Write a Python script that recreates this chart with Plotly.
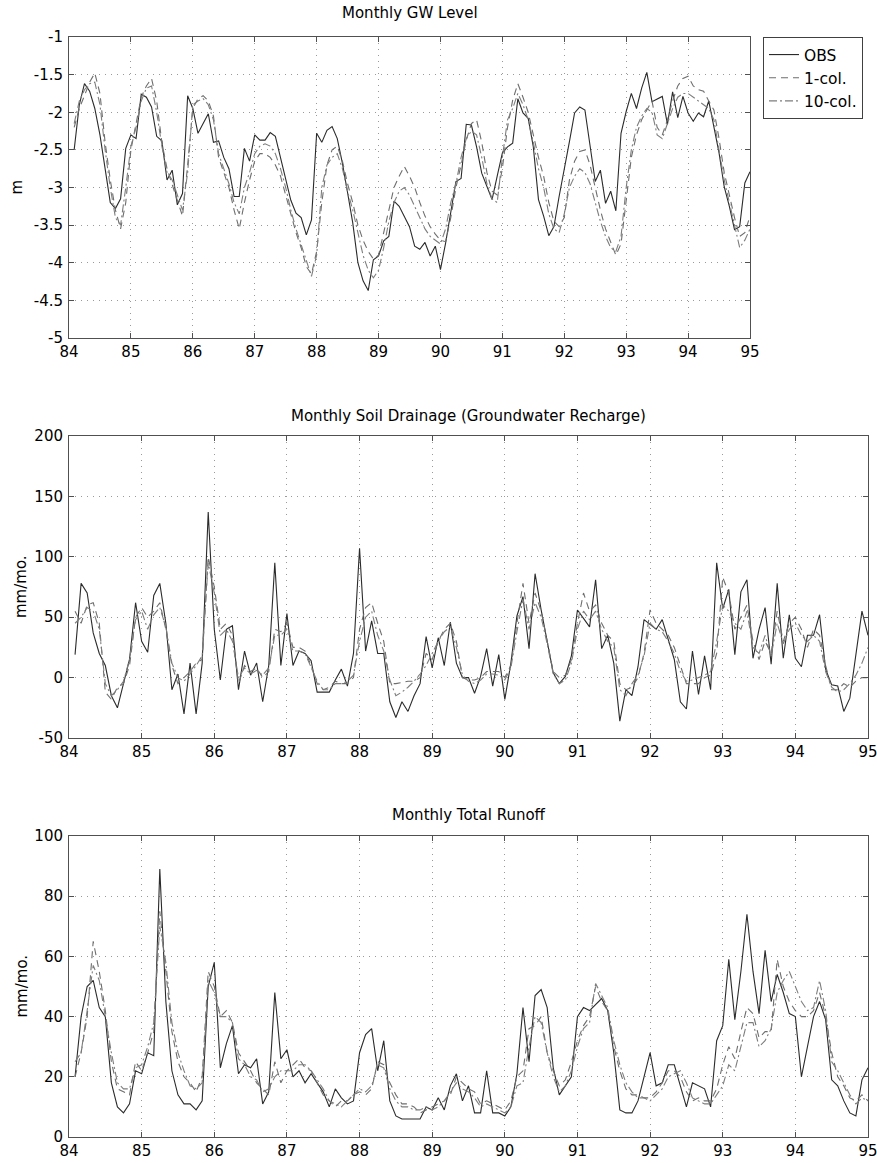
import plotly.graph_objects as go

W, H = 877, 1163

# Monthly time axis: one value per month, Feb 1984 .. Jan 1995 (years as 84..95)
months = [84 + (k + 1) / 12 for k in range(132)]
x_tick_vals = list(range(84, 96))
x_tick_text = [str(v) for v in x_tick_vals]

# ---- Monthly GW level (m) ----
gw_obs = [
    -2.5, -1.9, -1.62, -1.72, -1.95, -2.3, -2.75, -3.2, -3.28, -3.15, -2.48,
    -2.3, -2.35, -1.76, -1.8, -1.93, -2.32, -2.38, -2.9, -2.77, -3.23, -3.08, -1.78,
    -1.95, -2.28, -2.15, -2.02, -2.4, -2.38, -2.6, -2.75, -3.12, -3.12, -2.48, -2.65,
    -2.3, -2.37, -2.37, -2.27, -2.32, -2.6, -2.92, -3.17, -3.34, -3.4, -3.63, -3.43,
    -2.28, -2.4, -2.24, -2.19, -2.35, -2.68, -3.07, -3.47, -4.0, -4.24, -4.37, -3.96,
    -3.91, -3.71, -3.65, -3.18, -3.25, -3.38, -3.52, -3.78, -3.82, -3.73, -3.91, -3.78,
    -4.09, -3.74, -3.34, -2.92, -2.88, -2.16, -2.17, -2.46, -2.81, -2.99, -3.16, -2.85,
    -2.54, -2.46, -2.41, -1.82, -2.01, -2.08, -2.46, -3.16, -3.38, -3.64, -3.52, -3.12,
    -2.77, -2.39, -2.01, -1.93, -1.97, -2.43, -2.92, -2.77, -3.21, -3.05, -3.31, -2.28,
    -1.99, -1.75, -1.95, -1.68, -1.47, -1.86, -1.83, -1.79, -2.16, -1.73, -2.07, -1.79,
    -2.01, -2.12, -2.01, -2.06, -1.85, -2.19, -2.54, -2.99, -3.25, -3.56, -3.52, -2.94, -2.79,
]
gw_1col = [
    -2.2, -1.95, -1.78, -1.6, -1.48, -1.75, -2.4, -2.9, -3.3, -3.55, -3.2,
    -2.5, -2.15, -1.8, -1.65, -1.55, -1.85, -2.4, -2.75, -2.95, -3.15, -3.38, -2.7,
    -1.95, -1.82, -1.78, -1.85, -2.05, -2.6, -2.8, -3.0, -3.3, -3.55, -3.2, -2.9,
    -2.65, -2.55, -2.55, -2.6, -2.7, -2.85, -3.1, -3.35, -3.6, -3.8, -4.05, -4.15,
    -3.85, -3.2, -2.7, -2.5, -2.45, -2.65, -2.95, -3.2, -3.5, -3.7, -3.85, -3.95,
    -3.9, -3.6, -3.3, -3.0, -2.85, -2.72, -2.85, -3.0, -3.2, -3.38, -3.52, -3.62,
    -3.7, -3.72, -3.4, -3.0, -2.7, -2.37, -2.15, -2.1, -2.4, -2.8, -3.05, -3.1,
    -2.75, -2.2, -1.84, -1.62, -1.8, -2.0, -2.3, -2.6, -2.85, -3.2, -3.45, -3.52,
    -3.4, -2.9, -2.65, -2.52, -2.5, -2.7, -3.0, -3.3, -3.55, -3.72, -3.9, -3.75,
    -3.2, -2.6, -2.3, -2.1, -1.97, -1.85, -2.2, -2.3, -2.1, -1.85, -1.65, -1.55,
    -1.52, -1.65, -1.7, -1.72, -1.85, -1.97, -2.35, -2.8, -3.1, -3.4, -3.65, -3.6, -3.38,
]
gw_10col = [
    -2.15, -1.85, -1.7, -1.62, -1.6, -1.9, -2.5, -3.0, -3.4, -3.5, -3.0,
    -2.45, -2.2, -1.85, -1.68, -1.65, -2.0, -2.45, -2.8, -2.9, -3.1, -3.3, -2.8,
    -1.9, -1.85, -1.82, -1.9, -2.1, -2.55, -2.75, -2.95, -3.2, -3.35, -3.0, -2.8,
    -2.55, -2.45, -2.42, -2.45, -2.55, -2.75, -3.0, -3.3, -3.55, -3.75, -3.95, -4.18,
    -3.9, -3.0, -2.7, -2.6, -2.55, -2.75, -3.05, -3.3, -3.6, -3.9, -4.1, -4.2,
    -4.1, -3.8, -3.45, -3.2, -3.05, -3.0, -3.1, -3.25, -3.4, -3.55, -3.65, -3.7,
    -3.75, -3.55, -3.2, -2.95, -2.6, -2.35, -2.25, -2.3, -2.6, -2.95, -3.15, -3.2,
    -2.6, -2.1, -1.95, -1.75, -1.9, -2.1, -2.4, -2.75, -3.0, -3.35, -3.55, -3.6,
    -3.35, -3.0, -2.85, -2.75, -2.8, -2.95, -3.2, -3.45, -3.65, -3.8, -3.85, -3.65,
    -3.0, -2.5, -2.2, -2.05, -1.95, -2.0, -2.3, -2.35, -2.15, -1.95, -1.8, -1.75,
    -1.75, -1.8, -1.85, -1.9, -1.95, -2.1, -2.5, -2.9, -3.2, -3.5, -3.8, -3.7, -3.55,
]

# ---- Monthly soil drainage / groundwater recharge (mm/mo.) ----
dr_obs = [
    19, 78, 70, 37, 20, 10, -15, -25, -5, 15, 62, 30,
    21, 68, 78, 45, -10, 3, -30, 12, -30, 12, 137, 40,
    -2, 40, 43, -10, 22, 2, 12, -20, 10, 95, 10, 53,
    10, 22, 20, 14, -12, -12, -12, -2, 7, -7, 20, 107,
    22, 47, 20, 20, -20, -33, -20, -28, -15, -5, 34, 8,
    33, 10, 46, 12, 0, 0, -13, 1, 24, -7, 19, -18,
    12, 51, 67, 24, 86, 56, 31, 4, -5, 1, 18, 56,
    49, 42, 81, 24, 35, 12, -36, -10, -15, 9, 48, 44,
    40, 48, 31, 15, -20, -26, 22, -14, 18, -10, 95, 57,
    73, 19, 71, 81, 16, 40, 58, 11, 78, 16, 52, 16,
    9, 35, 35, 52, 7, -6, -7, -28, -17, 18, 55, 35,
]
dr_1col = [
    55, 45, 60, 62, 45, -12, -18, -8, -5, 10, 50, 58,
    50, 55, 62, 40, 10, -5, 0, 5, 12, 15, 100, 75,
    40, 45, 35, -5, 10, 5, 8, 0, 5, 40, 38, 45,
    25, 25, 22, 10, -5, -10, -8, -3, -5, -5, 0, 40,
    58, 62, 45, 30, -5, -5, -4, -3, -3, 0, 20, 15,
    30, 40, 45, 30, 0, -2, -2, 0, 5, 5, 5, 0,
    10, 45, 78, 45, 70, 55, 30, 5, 0, 2, 15, 45,
    70, 55, 60, 45, 35, 30, -5, -10, -8, 0, 20, 56,
    45, 40, 35, 25, 10, -5, -5, -5, 0, 2, 20, 83,
    70, 40, 50, 60, 30, 15, 30, 20, 55, 30, 45, 50,
    40, 25, 40, 35, 10, -10, -10, -5, -8, -3, 0, 0,
]
dr_10col = [
    45, 50, 58, 55, 40, -5, -15, -10, -3, 15, 48, 55,
    40, 52, 58, 42, 12, 0, -3, 3, 10, 18, 95, 70,
    35, 40, 30, 0, 8, 3, 6, 2, 8, 35, 35, 40,
    22, 22, 20, 8, -3, -10, -10, -5, -5, -3, 2, 30,
    50, 55, 35, 22, -2, -15, -12, -8, -3, 3, 10, 20,
    30, 38, 42, 25, 2, -3, -5, -2, 3, 3, 2, -2,
    8, 38, 65, 40, 62, 50, 28, 3, -5, -2, 12, 40,
    55, 48, 55, 40, 30, 25, -10, -15, -5, 2, 18, 45,
    40, 38, 30, 20, 5, -3, -2, 0, 2, 5, 30, 60,
    55, 45, 40, 55, 25, 20, 35, 18, 45, 28, 40, 45,
    35, 30, 35, 30, 5, -8, -12, -10, -5, 2, 12, 25,
]

# ---- Monthly total runoff (mm/mo.) ----
ro_obs = [
    20, 40, 50, 52, 43, 40, 18, 10, 8, 11, 22, 21,
    28, 27, 89, 45, 22, 14, 11, 11, 9, 12, 50, 58,
    23, 31, 37, 21, 24, 23, 26, 11, 15, 48, 26, 29,
    20, 22, 18, 21, 18, 15, 10, 16, 13, 11, 12, 28,
    34, 36, 22, 32, 12, 7, 6, 6, 6, 6, 10, 9,
    13, 9, 17, 21, 12, 17, 8, 8, 22, 8, 8, 7,
    10, 21, 43, 25, 47, 49, 43, 23, 14, 17, 20, 40,
    43, 42, 44, 46, 42, 28, 9, 8, 8, 12, 20, 28,
    17, 18, 24, 24, 17, 10, 18, 17, 16, 10, 32, 37,
    59, 39, 55, 74, 55, 41, 62, 45, 54, 48, 41, 40,
    20, 30, 40, 45, 39, 19, 17, 12, 8, 7, 19, 23,
]
ro_1col = [
    20, 28, 40, 65, 55, 42, 25, 16, 15, 14, 25, 22,
    28, 35, 75, 55, 35, 25, 20, 18, 15, 20, 55, 50,
    40, 42, 38, 28, 25, 22, 18, 16, 14, 25, 18, 22,
    24, 26, 23, 22, 18, 14, 12, 10, 12, 12, 14, 15,
    14, 16, 25, 24, 18, 14, 11, 11, 10, 8, 9, 10,
    11, 12, 14, 20, 18, 16, 15, 11, 12, 11, 10, 9,
    12, 20, 22, 36, 37, 40, 28, 22, 17, 19, 25, 32,
    37, 40, 50, 45, 42, 30, 22, 16, 14, 14, 13, 13,
    15, 18, 22, 22, 20, 15, 12, 13, 12, 12, 16, 24,
    30, 26, 35, 43, 41, 33, 35, 35, 59, 50, 45, 42,
    40, 40, 42, 48, 40, 28, 20, 17, 13, 12, 14, 12,
]
ro_10col = [
    25, 28, 42, 57, 52, 40, 28, 18, 16, 16, 23, 24,
    30, 38, 70, 58, 38, 28, 22, 17, 16, 18, 52, 48,
    40, 40, 38, 26, 24, 20, 19, 15, 16, 20, 22, 22,
    22, 24, 24, 22, 19, 16, 12, 11, 10, 12, 14, 16,
    15, 17, 24, 23, 16, 12, 10, 10, 9, 9, 10, 9,
    10, 12, 15, 18, 16, 15, 13, 10, 11, 10, 9, 8,
    10, 17, 18, 30, 40, 38, 28, 20, 15, 17, 22, 30,
    36, 38, 51, 47, 43, 32, 24, 18, 15, 13, 13, 12,
    14, 16, 20, 21, 22, 18, 13, 12, 11, 11, 14, 17,
    24, 22, 30, 38, 38, 30, 32, 36, 48, 52, 55, 50,
    45, 42, 43, 52, 42, 25, 22, 18, 14, 11, 13, 12,
]

for series in (gw_obs, gw_1col, gw_10col, dr_obs, dr_1col, dr_10col,
               ro_obs, ro_1col, ro_10col):
    if len(series) != len(months):
        raise ValueError("series length %d" % len(series))

series_names = ["OBS", "1-col.", "10-col."]
panel_titles = [
    "Monthly GW Level",
    "Monthly Soil Drainage (Groundwater Recharge)",
    "Monthly Total Runoff",
]
y_titles = ["m", "mm/mo.", "mm/mo."]
gw_ticks = [-5, -4.5, -4, -3.5, -3, -2.5, -2, -1.5, -1]
gw_tick_text = ["-5", "-4.5", "-4", "-3.5", "-3", "-2.5", "-2", "-1.5", "-1"]
dr_ticks = [-50, 0, 50, 100, 150, 200]
dr_tick_text = ["-50", "0", "50", "100", "150", "200"]
ro_ticks = [0, 20, 40, 60, 80, 100]
ro_tick_text = ["0", "20", "40", "60", "80", "100"]

# ---- styling ----
FONT = "DejaVu Sans, Verdana, sans-serif"
line_styles = [
    dict(color="#2b2b2b", width=1.1, dash="solid"),
    dict(color="#6e6e6e", width=1.1, dash="7px,5px"),
    dict(color="#7d7d7d", width=1.1, dash="8px,3px,2px,3px"),
]

# plot-area boxes in pixels: (left, right, top, bottom)
boxes = [(69, 750, 37, 338), (69, 868, 436, 738), (69, 868, 836, 1137)]
y_ranges = [[-5, -1], [-50, 200], [0, 100]]
y_ticks = [(gw_ticks, gw_tick_text), (dr_ticks, dr_tick_text), (ro_ticks, ro_tick_text)]
title_centers = [13, 416, 815]
ylabel_x = [16, 21, 21]

panels = [
    (gw_obs, gw_1col, gw_10col),
    (dr_obs, dr_1col, dr_10col),
    (ro_obs, ro_1col, ro_10col),
]

fig = go.Figure()
for p, trio in enumerate(panels):
    sfx = "" if p == 0 else str(p + 1)
    for s, (vals, name) in enumerate(zip(trio, series_names)):
        fig.add_trace(go.Scatter(
            x=months, y=vals, mode="lines", name=name,
            line=line_styles[s], xaxis="x" + sfx, yaxis="y" + sfx,
            showlegend=(p == 0),
        ))

axis_common = dict(
    showline=True, linecolor="#505050", linewidth=1, mirror="ticks",
    ticks="inside", ticklen=5, tickcolor="#505050", tickwidth=1,
    showgrid=True, gridcolor="#9a9a9a", gridwidth=1, griddash="1px,5px",
    zeroline=False, automargin=False, ticklabeloverflow="allow",
)

layout = dict(
    width=W, height=H, margin=dict(l=0, r=0, t=0, b=0),
    paper_bgcolor="white", plot_bgcolor="white",
    font=dict(family=FONT, color="black"),
    legend=dict(
        x=763 / W, y=1 - 37 / H, xanchor="left", yanchor="top",
        bgcolor="white", bordercolor="#404040", borderwidth=1,
        font=dict(family=FONT, size=15.5, color="black"),
        itemwidth=30, tracegroupgap=0,
    ),
)

annotations = []
for p in range(3):
    left, right, top, bottom = boxes[p]
    sfx = "" if p == 0 else str(p + 1)
    layout["xaxis" + sfx] = dict(
        axis_common, domain=[left / W, right / W], range=[84, 95],
        tickvals=x_tick_vals, ticktext=x_tick_text,
        tickfont=dict(family=FONT, size=15, color="black"),
        anchor="y" + sfx,
    )
    layout["yaxis" + sfx] = dict(
        axis_common, domain=[1 - bottom / H, 1 - top / H], range=y_ranges[p],
        tickvals=y_ticks[p][0], ticktext=y_ticks[p][1],
        tickfont=dict(family=FONT, size=15, color="black"),
        ticklabelstandoff=2,
        anchor="x" + sfx,
    )
    annotations.append(dict(
        text=panel_titles[p], xref="paper", yref="paper",
        x=(left + right) / 2 / W, y=1 - title_centers[p] / H,
        xanchor="center", yanchor="middle", showarrow=False,
        font=dict(family=FONT, size=15, color="black"),
    ))
    annotations.append(dict(
        text=y_titles[p], xref="paper", yref="paper",
        x=ylabel_x[p] / W, y=1 - (top + bottom) / 2 / H,
        xanchor="center", yanchor="middle", showarrow=False, textangle=-90,
        font=dict(family=FONT, size=15, color="black"),
    ))

layout["annotations"] = annotations
fig.update_layout(**layout)
fig.write_html("out.html")
